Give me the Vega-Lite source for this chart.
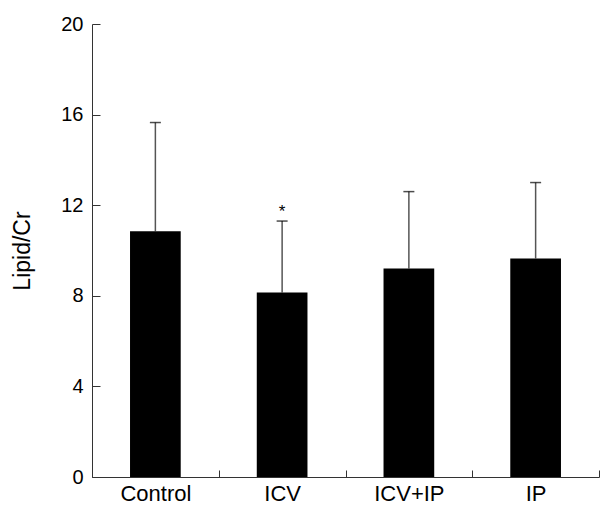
{
  "$schema": "https://vega.github.io/schema/vega-lite/v6.json",
  "width": 507,
  "height": 453,
  "autosize": "none",
  "padding": {"left": 92, "top": 24, "right": 1, "bottom": 28},
  "config": {
    "view": {"stroke": null},
    "font": "Liberation Sans",
    "axis": {
      "grid": false,
      "domainColor": "#333",
      "tickColor": "#333",
      "labelColor": "#000",
      "titleColor": "#000",
      "labelFont": "Liberation Sans",
      "titleFont": "Liberation Sans",
      "titleFontWeight": "normal"
    }
  },
  "data": {
    "values": [
      {"group": "Control", "mean": 10.85, "upper": 15.65, "sig": ""},
      {"group": "ICV", "mean": 8.15, "upper": 11.3, "sig": "*"},
      {"group": "ICV+IP", "mean": 9.2, "upper": 12.6, "sig": ""},
      {"group": "IP", "mean": 9.65, "upper": 13.0, "sig": ""}
    ]
  },
  "encoding": {
    "x": {
      "field": "group",
      "type": "nominal",
      "sort": null,
      "scale": {"paddingInner": 0, "paddingOuter": 0},
      "axis": {
        "title": null,
        "labelAngle": 0,
        "labelFontSize": 22,
        "tickSize": -7,
        "tickBand": "extent",
        "labelPadding": 13
      }
    }
  },
  "layer": [
    {
      "mark": {"type": "rule", "color": "#555", "strokeWidth": 1.5},
      "encoding": {
        "y": {"field": "mean", "type": "quantitative"},
        "y2": {"field": "upper"}
      }
    },
    {
      "mark": {"type": "tick", "color": "#000", "size": 11, "thickness": 1.5, "orient": "horizontal"},
      "encoding": {
        "y": {"field": "upper", "type": "quantitative"}
      }
    },
    {
      "mark": {"type": "bar", "color": "#000", "width": {"band": 0.4}},
      "encoding": {
        "y": {
          "field": "mean",
          "type": "quantitative",
          "scale": {"domain": [0, 20], "nice": false},
          "axis": {
            "title": "Lipid/Cr",
            "titleFontSize": 23,
            "labelFontSize": 20,
            "values": [0, 4, 8, 12, 16, 20],
            "tickSize": -8,
            "labelPadding": 17,
            "titlePadding": 26
          }
        }
      }
    },
    {
      "mark": {"type": "text", "fontSize": 17, "dy": -4, "baseline": "alphabetic", "color": "#000"},
      "encoding": {
        "y": {"field": "upper", "type": "quantitative"},
        "text": {"field": "sig"}
      }
    }
  ]
}
